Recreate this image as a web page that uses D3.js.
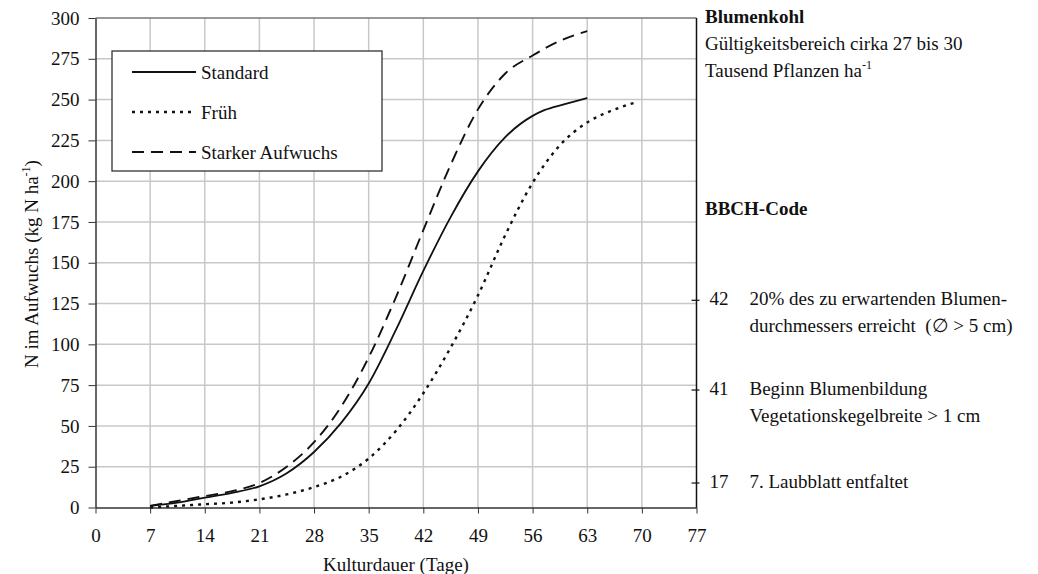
<!DOCTYPE html>
<html>
<head>
  <meta charset="UTF-8">
  <style>
    body { margin: 0; background: #fff; }
    svg { display: block; }
    text { font-family: "Liberation Serif", "Times New Roman", serif; fill: #111; white-space: pre; }
    .grid line { stroke: #c8c8c8; stroke-width: 1.5px; }
    .axis path, .axis line { stroke: #333; }
    .axis text { font-size: 19px; font-family: "Liberation Serif", serif; fill: #111; }
    .curve { fill: none; stroke: #111; }
  </style>
</head>
<body>
  <svg width="1038" height="574"></svg>
  <script src="https://d3js.org/d3.v7.min.js"></script>
  <script>
    // Kulturdauer (Tage) und N im Aufwuchs (kg N/ha)
    const standardDays = [7, 10.5, 14, 17.5, 21, 24.5, 28, 31.5, 35, 38.5, 42, 45.5, 49, 52.5, 56, 57.5, 60, 63];
    const standardN    = [1, 3, 6, 9, 13, 21, 34, 52, 76, 109, 145, 178, 206, 227, 240, 243.5, 247, 251];

    const fruehDays = [7, 10.5, 14, 17.5, 21, 24.5, 28, 31.5, 35, 38.5, 42, 45.5, 49, 52.5, 56, 59.5, 63, 66, 69];
    const fruehN    = [0, 1, 2, 3, 5, 8, 12.5, 19, 30, 47, 70, 98, 130, 167, 199, 222, 236, 243, 248];

    const starkDays = [7, 10.5, 14, 17.5, 21, 24.5, 28, 31.5, 35, 38.5, 42, 45.5, 49, 52.5, 56, 59.5, 63];
    const starkN    = [1, 4, 7, 10, 15, 25, 40, 62, 92, 129, 170, 210, 244, 266, 277, 286, 292];

    const seriesNames = ['Standard', 'Früh', 'Starker Aufwuchs'];
    const seriesDash = ['none', '3,5', '12,7'];
    const seriesWidth = [1.8, 2.4, 1.9];

    const xTicks = [0, 7, 14, 21, 28, 35, 42, 49, 56, 63, 70, 77];
    const yTicks = [0, 25, 50, 75, 100, 125, 150, 175, 200, 225, 250, 275, 300];

    // BBCH-Stadien: Lage an der rechten Achse (in kg N/ha-Einheiten)
    const bbchCodes = ['42', '41', '17'];
    const bbchAt = [127, 72, 15];
    const bbchText = [
      ['20% des zu erwartenden Blumen-', 'durchmessers erreicht  (\u2205 > 5 cm)'],
      ['Beginn Blumenbildung', 'Vegetationskegelbreite > 1 cm'],
      ['7. Laubblatt entfaltet']
    ];

    const svg = d3.select('svg');
    const x = d3.scaleLinear().domain([0, 77]).range([95.5, 696.5]);
    const y = d3.scaleLinear().domain([0, 300]).range([507.5, 18]);

    // Gitter
    const grid = svg.append('g').attr('class', 'grid');
    grid.selectAll('.v').data(xTicks.filter(d => d > 0 && d < 77)).enter().append('line')
      .attr('x1', d => x(d)).attr('x2', d => x(d)).attr('y1', y(300)).attr('y2', y(0));
    grid.selectAll('.h').data(yTicks.filter(d => d > 0 && d < 300)).enter().append('line')
      .attr('x1', x(0)).attr('x2', x(77)).attr('y1', d => y(d)).attr('y2', d => y(d));

    // obere Begrenzung
    svg.append('line').attr('x1', x(0)).attr('x2', x(77)).attr('y1', y(300)).attr('y2', y(300))
      .attr('stroke', '#777').attr('stroke-width', 1.5);

    // Achsen
    const yAxis = svg.append('g').attr('class', 'axis')
      .attr('transform', `translate(${x(0)},0)`)
      .call(d3.axisLeft(y).tickValues(yTicks).tickSize(7).tickPadding(9).tickSizeOuter(0));
    yAxis.select('.domain').attr('stroke', '#444').attr('stroke-width', 1.5);

    const xAxis = svg.append('g').attr('class', 'axis')
      .attr('transform', `translate(0,${y(0)})`)
      .call(d3.axisBottom(x).tickValues(xTicks).tickSize(6).tickPadding(15).tickSizeOuter(0));
    xAxis.select('.domain').attr('stroke', '#111').attr('stroke-width', 1.5);

    // rechte Achse (BBCH)
    svg.append('line').attr('x1', x(77)).attr('x2', x(77)).attr('y1', y(300)).attr('y2', y(0))
      .attr('stroke', '#111').attr('stroke-width', 1.5);
    const bbch = svg.append('g').selectAll('g').data(bbchCodes).enter().append('g')
      .attr('transform', (d, i) => `translate(${x(77)},${y(bbchAt[i])})`);
    bbch.append('line').attr('x1', -5).attr('x2', 3).attr('stroke', '#111').attr('stroke-width', 1.2);
    bbch.append('text').attr('x', 32).attr('y', 5).attr('text-anchor', 'end')
      .style('font-size', '19px').text(d => d);
    bbch.each(function (d, i) {
      const t = d3.select(this).append('text').attr('x', 53).attr('y', 5).style('font-size', '19px');
      bbchText[i].forEach((line, j) => {
        t.append('tspan').attr('x', 53).attr('dy', j === 0 ? 0 : 27).text(line);
      });
    });

    // Kurven
    const line = d3.line().curve(d3.curveMonotoneX).x(d => x(d[0])).y(d => y(d[1]));
    const series = [
      d3.zip(standardDays, standardN),
      d3.zip(fruehDays, fruehN),
      d3.zip(starkDays, starkN)
    ];
    svg.append('g').selectAll('path').data(series).enter().append('path')
      .attr('class', 'curve')
      .attr('stroke-dasharray', (d, i) => seriesDash[i])
      .attr('stroke-width', (d, i) => seriesWidth[i])
      .attr('d', line);

    // Legende
    const legend = svg.append('g').attr('transform', 'translate(112,51)');
    legend.append('rect').attr('width', 270).attr('height', 120)
      .attr('fill', '#fff').attr('stroke', '#222').attr('stroke-width', 1.2);
    const item = legend.selectAll('.item').data(seriesNames).enter().append('g')
      .attr('transform', (d, i) => `translate(0,${21 + i * 40})`);
    item.append('line').attr('x1', 20).attr('x2', 84)
      .attr('stroke', '#111')
      .attr('stroke-width', (d, i) => seriesWidth[i])
      .attr('stroke-dasharray', (d, i) => seriesDash[i]);
    item.append('text').attr('x', 89).attr('y', 7).style('font-size', '19px').text(d => d);

    // Achsentitel
    svg.append('text').attr('x', (x(0) + x(77)) / 2).attr('y', 571).attr('text-anchor', 'middle')
      .style('font-size', '19px').text('Kulturdauer (Tage)');
    const yl = svg.append('text').attr('transform', 'translate(38,264) rotate(-90)')
      .attr('text-anchor', 'middle').style('font-size', '19px');
    yl.append('tspan').text('N im Aufwuchs (kg N ha');
    yl.append('tspan').attr('dy', -8).style('font-size', '12px').text('-1');
    yl.append('tspan').attr('dy', 8).text(')');

    // Kopftexte rechts
    svg.append('text').attr('x', 705).attr('y', 23).style('font-size', '19px').style('font-weight', 'bold').text('Blumenkohl');
    svg.append('text').attr('x', 705).attr('y', 50).style('font-size', '19px').text('Gültigkeitsbereich cirka 27 bis 30');
    const th = svg.append('text').attr('x', 705).attr('y', 77).style('font-size', '19px');
    th.append('tspan').text('Tausend Pflanzen ha');
    th.append('tspan').attr('dy', -8).style('font-size', '12px').text('-1');
    svg.append('text').attr('x', 705).attr('y', 215).style('font-size', '19px').style('font-weight', 'bold').text('BBCH-Code');
  </script>
</body>
</html>
